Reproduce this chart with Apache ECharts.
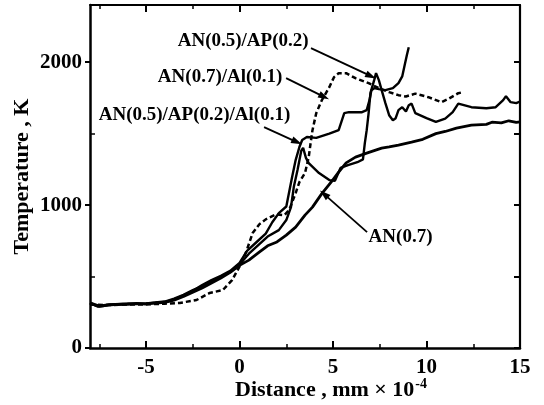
<!DOCTYPE html>
<html>
<head>
<meta charset="utf-8">
<script src="https://cdn.jsdelivr.net/npm/echarts@6/dist/echarts.min.js"></script>
<style>
  html, body { margin: 0; padding: 0; background: #fff; }
  #chart { width: 544px; height: 405px; }
</style>
</head>
<body>
<div id="chart"></div>
<script>
// Temperature profiles [distance (mm x 1e-4), temperature (K)]
const an07 = [
  [-8, 315], [-7.6, 292], [-7.3, 295], [-7, 302], [-6.5, 305], [-6, 308], [-5.5, 312], [-5, 308],
  [-4.5, 315], [-4, 320], [-3.5, 335], [-3, 360], [-2.5, 390], [-2, 420], [-1.5, 455], [-1, 490],
  [-0.5, 530], [0, 578], [0.5, 615], [1, 665], [1.5, 715], [2, 742], [2.5, 790], [3, 846],
  [3.5, 930], [3.9, 986], [4.4, 1080], [4.95, 1170], [5.3, 1230], [5.7, 1295], [6.2, 1336],
  [6.8, 1364], [7.6, 1399], [8, 1408], [8.5, 1420], [9.2, 1441], [9.8, 1460], [10.5, 1500],
  [11, 1515], [11.6, 1538], [12.4, 1559], [13.2, 1565], [13.5, 1580], [14, 1575], [14.4, 1590],
  [14.8, 1578], [15, 1582]
];
const an07al01 = [
  [-8, 305], [-7, 300], [-6, 305], [-5, 305], [-4, 310], [-3.2, 315], [-2.3, 336], [-1.6, 385],
  [-0.9, 405], [-0.4, 475], [0.1, 594], [0.35, 671], [0.7, 804], [1.05, 865], [1.4, 900],
  [1.95, 935], [2.4, 930], [2.65, 965], [3.0, 1084], [3.2, 1161], [3.5, 1224], [3.7, 1336],
  [3.8, 1434], [3.9, 1524], [4.1, 1643], [4.4, 1734], [4.8, 1825], [5.05, 1895], [5.3, 1923],
  [5.7, 1923], [6.2, 1888], [6.9, 1853], [7.45, 1818], [8.0, 1790], [8.5, 1769], [8.9, 1760],
  [9.4, 1780], [10.1, 1755], [10.8, 1720], [11.2, 1745], [11.7, 1783], [11.95, 1790]
];
const an05ap02al01 = [
  [-8, 310], [-7.5, 290], [-7, 300], [-6, 305], [-5, 310], [-4.5, 315], [-4, 320], [-3.5, 340],
  [-3, 368], [-2.5, 400], [-2, 440], [-1.5, 475], [-1, 505], [-0.5, 540], [0, 595], [0.4, 680],
  [0.9, 740], [1.4, 800], [1.75, 880], [2.1, 944], [2.5, 990], [2.8, 1190], [3.0, 1315],
  [3.2, 1406], [3.35, 1455], [3.6, 1476], [4.1, 1470], [4.8, 1500], [5.3, 1525], [5.6, 1643],
  [5.85, 1650], [6.55, 1650], [6.8, 1664], [6.95, 1734], [7.05, 1804], [7.2, 1818], [7.45, 1811],
  [7.8, 1804], [8.2, 1818], [8.5, 1853], [8.7, 1900], [8.85, 1990], [8.95, 2050], [9.05, 2105]
];
const an05ap02 = [
  [-8, 318], [-7.5, 295], [-7, 305], [-6, 310], [-5, 312], [-4.5, 318], [-4, 325], [-3.5, 345],
  [-3, 372], [-2.5, 405], [-2, 432], [-1.5, 465], [-1, 498], [-0.5, 530], [0, 585], [0.5, 660],
  [1, 720], [1.5, 780], [2.1, 825], [2.5, 895], [2.75, 986], [2.9, 1126], [3.1, 1245], [3.3, 1380],
  [3.4, 1400], [3.55, 1330], [3.7, 1294], [4.25, 1224], [4.8, 1175], [5.1, 1170], [5.4, 1260],
  [5.8, 1280], [6.3, 1300], [6.6, 1320], [6.7, 1434], [6.8, 1524], [6.9, 1640], [7.0, 1783],
  [7.2, 1874], [7.3, 1923], [7.45, 1874], [7.6, 1804], [7.8, 1713], [8.0, 1629], [8.2, 1594],
  [8.35, 1608], [8.5, 1664], [8.7, 1685], [8.9, 1655], [9.05, 1699], [9.2, 1710], [9.4, 1643],
  [10.0, 1608], [10.5, 1582], [11.0, 1605], [11.4, 1650], [11.7, 1710], [12.4, 1685],
  [13.2, 1678], [13.7, 1685], [14.1, 1734], [14.25, 1762], [14.5, 1720], [14.8, 1713], [15, 1725]
];

// Tick positions
const xMajorTicks = [-5, 0, 5, 10, 15];
const xMinorTicks = [-7.5, -2.5, 2.5, 7.5, 12.5];
const yMajorTicks = [0, 1000, 2000];
const yMinorTicks = [500, 1500];

// Callout labels: text, label position, arrow start, arrow tip
const calloutText = ['AN(0.5)/AP(0.2)', 'AN(0.7)/Al(0.1)', 'AN(0.5)/AP(0.2)/Al(0.1)', 'AN(0.7)'];
const calloutAt = [[0.19, 2147], [-1.04, 1895], [-2.41, 1629], [8.61, 776]];
const arrowFrom = [[3.82, 2098], [2.49, 1888], [1.31, 1545], [6.82, 811]];
const arrowTo = [[7.03, 1902], [4.52, 1757], [3.07, 1441], [4.52, 1077]];

const FONT = 'Liberation Serif, Times New Roman, serif';
const INK = '#000';
const plain = v => String(v);

const hiddenAxis = {
  show: true,
  axisLine: { show: false, onZero: false },
  axisLabel: { show: false },
  splitLine: { show: false }
};

const chart = echarts.init(document.getElementById('chart'), null, { renderer: 'canvas' });
chart.setOption({
  animation: false,
  backgroundColor: '#fff',
  grid: { left: 90, right: 24, top: 5, bottom: 57, containLabel: false, outerBoundsMode: 'none' },
  xAxis: [
    {
      type: 'value', position: 'bottom', min: -8, max: 15,
      axisLine: { show: true, onZero: false, lineStyle: { color: INK, width: 2.5 } },
      axisTick: { show: true, inside: true, length: 7, customValues: xMajorTicks, lineStyle: { color: INK, width: 2 } },
      axisLabel: { show: true, customValues: xMajorTicks, formatter: plain, margin: 9, color: INK, fontFamily: FONT, fontWeight: 'bold', fontSize: 21 },
      splitLine: { show: false },
      name: 'Distance , mm × 10{sup|-4}',
      nameLocation: 'middle', nameGap: 29, nameMoveOverlap: false,
      nameTextStyle: {
        color: INK, fontFamily: FONT, fontWeight: 'bold', fontSize: 22, padding: [0, 0, 0, 52],
        rich: { sup: { fontFamily: FONT, fontWeight: 'bold', fontSize: 14, verticalAlign: 'top', padding: [0, 0, 12, 1] } }
      }
    },
    Object.assign({}, hiddenAxis, {
      type: 'value', position: 'bottom', min: -8, max: 15,
      axisTick: { show: true, inside: true, length: 4, customValues: xMinorTicks, lineStyle: { color: INK, width: 1.5 } }
    }),
    {
      type: 'value', position: 'top', min: -8, max: 15,
      axisLine: { show: true, onZero: false, lineStyle: { color: INK, width: 1.8 } },
      axisTick: { show: true, inside: true, length: 7, customValues: xMajorTicks, lineStyle: { color: INK, width: 2 } },
      axisLabel: { show: false }, splitLine: { show: false }
    },
    Object.assign({}, hiddenAxis, {
      type: 'value', position: 'top', min: -8, max: 15,
      axisTick: { show: true, inside: true, length: 4, customValues: xMinorTicks, lineStyle: { color: INK, width: 1.5 } }
    })
  ],
  yAxis: [
    {
      type: 'value', position: 'left', min: 0, max: 2400,
      axisLine: { show: true, onZero: false, lineStyle: { color: INK, width: 2.5 } },
      axisTick: { show: true, inside: false, length: 5, customValues: yMajorTicks, lineStyle: { color: INK, width: 2 } },
      axisLabel: { show: true, customValues: yMajorTicks, formatter: plain, margin: 8, color: INK, fontFamily: FONT, fontWeight: 'bold', fontSize: 21 },
      splitLine: { show: false },
      name: 'Temperature , K',
      nameLocation: 'middle', nameRotate: 90, nameGap: 57, nameMoveOverlap: false,
      nameTextStyle: { color: INK, fontFamily: FONT, fontWeight: 'bold', fontSize: 22 }
    },
    Object.assign({}, hiddenAxis, {
      type: 'value', position: 'left', min: 0, max: 2400,
      axisTick: { show: true, inside: true, length: 5, customValues: yMinorTicks, lineStyle: { color: INK, width: 1.5 } }
    }),
    {
      type: 'value', position: 'right', min: 0, max: 2400,
      axisLine: { show: true, onZero: false, lineStyle: { color: INK, width: 2.2 } },
      axisTick: { show: true, inside: true, length: 6, customValues: yMajorTicks.concat(yMinorTicks), lineStyle: { color: INK, width: 2 } },
      axisLabel: { show: false }, splitLine: { show: false }
    }
  ],
  series: [
    {
      name: 'AN(0.7)', type: 'line', data: an07, showSymbol: false, symbol: 'none',
      lineStyle: { color: INK, width: 2.8 }
    },
    {
      name: 'AN(0.7)/Al(0.1)', type: 'line', data: an07al01, showSymbol: false, symbol: 'none',
      lineStyle: { color: INK, width: 2.5, type: [5, 3] }
    },
    {
      name: 'AN(0.5)/AP(0.2)/Al(0.1)', type: 'line', data: an05ap02al01, showSymbol: false, symbol: 'none',
      lineStyle: { color: INK, width: 2.4 }
    },
    {
      name: 'AN(0.5)/AP(0.2)', type: 'line', data: an05ap02, showSymbol: false, symbol: 'none',
      lineStyle: { color: INK, width: 2.4 }
    },
    {
      name: 'callouts', type: 'line', data: [], silent: true,
      markLine: {
        silent: true, animation: false,
        symbol: ['none', 'triangle'], symbolSize: [7, 11],
        label: { show: false },
        lineStyle: { color: INK, width: 1.8, type: 'solid' },
        emphasis: { disabled: true },
        data: arrowFrom.map((p, i) => [{ coord: p }, { coord: arrowTo[i] }])
      },
      markPoint: {
        silent: true, animation: false,
        symbol: 'circle', symbolSize: 0,
        label: {
          show: true, position: 'inside', color: INK,
          fontFamily: FONT, fontWeight: 'bold', fontSize: 19,
          formatter: p => p.name
        },
        data: calloutText.map((t, i) => ({ name: t, coord: calloutAt[i] }))
      }
    }
  ]
});
</script>
</body>
</html>
